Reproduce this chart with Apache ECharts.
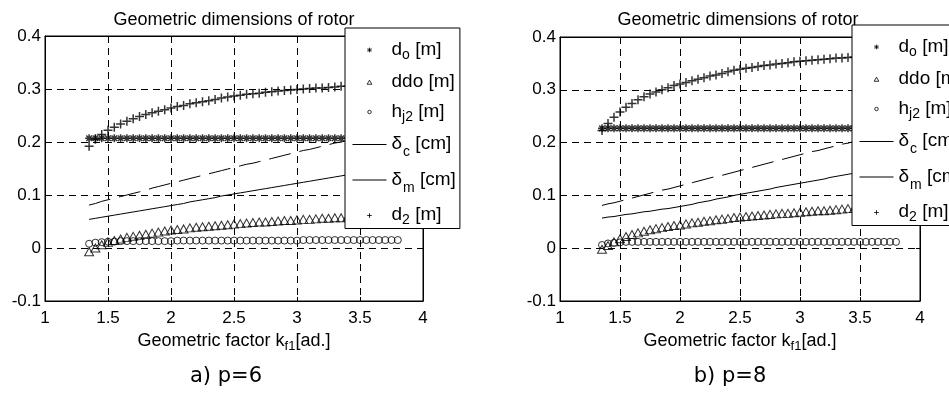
<!DOCTYPE html>
<html>
<head>
<meta charset="utf-8">
<script src="https://cdn.jsdelivr.net/npm/echarts@6/dist/echarts.min.js"></script>
<style>
  html, body { margin: 0; padding: 0; background: #fff; }
  #chart { width: 949px; height: 397px; }
</style>
</head>
<body>
<div id="chart"></div>
<script>
// geometric factor kf1 [ad.]
const kf1 = [
  1.35, 1.40, 1.45, 1.50, 1.55, 1.60, 1.65, 1.70, 1.75, 1.80,
  1.85, 1.90, 1.95, 2.00, 2.05, 2.10, 2.15, 2.20, 2.25, 2.30,
  2.35, 2.40, 2.45, 2.50, 2.55, 2.60, 2.65, 2.70, 2.75, 2.80,
  2.85, 2.90, 2.95, 3.00, 3.05, 3.10, 3.15, 3.20, 3.25, 3.30,
  3.35, 3.40, 3.45, 3.50, 3.55, 3.60, 3.65, 3.70, 3.75, 3.80
]

// a) p=6
const do6 = [
  0.207, 0.207, 0.207, 0.207, 0.207, 0.207, 0.207, 0.207, 0.207, 0.207,
  0.207, 0.207, 0.207, 0.207, 0.207, 0.207, 0.207, 0.207, 0.207, 0.207,
  0.207, 0.207, 0.207, 0.207, 0.207, 0.207, 0.207, 0.207, 0.207, 0.207,
  0.207, 0.207, 0.207, 0.207, 0.207, 0.207, 0.207, 0.207, 0.207, 0.207,
  0.207, 0.207, 0.207, 0.207, 0.207, 0.207, 0.207, 0.207, 0.207, 0.207
]
const ddo6 = [
  -0.007, 0.000, 0.006, 0.011, 0.014, 0.017, 0.020, 0.022, 0.024, 0.026,
  0.028, 0.030, 0.032, 0.034, 0.035, 0.036, 0.038, 0.039, 0.040, 0.041,
  0.042, 0.043, 0.044, 0.045, 0.046, 0.047, 0.048, 0.049, 0.049, 0.050,
  0.051, 0.052, 0.052, 0.053, 0.054, 0.054, 0.055, 0.056, 0.056, 0.057,
  0.057, 0.058, 0.058, 0.059, 0.059, 0.060, 0.060, 0.061, 0.061, 0.062
]
const hj6 = [
  0.008, 0.010, 0.011, 0.012, 0.012, 0.013, 0.013, 0.013, 0.013, 0.013,
  0.013, 0.013, 0.013, 0.013, 0.014, 0.014, 0.014, 0.014, 0.014, 0.014,
  0.014, 0.014, 0.014, 0.014, 0.014, 0.014, 0.014, 0.014, 0.014, 0.014,
  0.014, 0.014, 0.014, 0.014, 0.015, 0.015, 0.015, 0.015, 0.015, 0.015,
  0.015, 0.015, 0.015, 0.015, 0.015, 0.015, 0.015, 0.015, 0.015, 0.015
]
const dc6 = [
  0.081, 0.084, 0.088, 0.091, 0.094, 0.097, 0.100, 0.103, 0.106, 0.109,
  0.113, 0.116, 0.119, 0.122, 0.125, 0.128, 0.131, 0.134, 0.137, 0.140,
  0.143, 0.146, 0.149, 0.152, 0.155, 0.158, 0.160, 0.163, 0.166, 0.169,
  0.172, 0.175, 0.178, 0.181, 0.184, 0.186, 0.189, 0.192, 0.195, 0.198,
  0.200, 0.203, 0.206, 0.209, 0.212, 0.215, 0.217, 0.220, 0.223, 0.226
]
const dm6 = [
  0.054, 0.056, 0.058, 0.060, 0.062, 0.064, 0.066, 0.068, 0.070, 0.072,
  0.074, 0.076, 0.078, 0.080, 0.082, 0.084, 0.087, 0.089, 0.091, 0.093,
  0.095, 0.098, 0.100, 0.102, 0.104, 0.106, 0.108, 0.110, 0.112, 0.114,
  0.116, 0.118, 0.120, 0.122, 0.124, 0.126, 0.128, 0.130, 0.132, 0.134,
  0.136, 0.138, 0.140, 0.142, 0.144, 0.146, 0.148, 0.150, 0.152, 0.154
]
const d2_6 = [
  0.192, 0.205, 0.214, 0.222, 0.228, 0.234, 0.239, 0.244, 0.248, 0.252,
  0.255, 0.258, 0.261, 0.264, 0.267, 0.269, 0.272, 0.274, 0.276, 0.278,
  0.280, 0.283, 0.285, 0.287, 0.288, 0.290, 0.291, 0.292, 0.294, 0.295,
  0.296, 0.297, 0.298, 0.299, 0.300, 0.301, 0.302, 0.302, 0.303, 0.304,
  0.305, 0.305, 0.306, 0.306, 0.307, 0.307, 0.308, 0.308, 0.308, 0.309
]

// b) p=8
const do8 = [
  0.227, 0.227, 0.227, 0.227, 0.227, 0.227, 0.227, 0.227, 0.227, 0.227,
  0.227, 0.227, 0.227, 0.227, 0.227, 0.227, 0.227, 0.227, 0.227, 0.227,
  0.227, 0.227, 0.227, 0.227, 0.227, 0.227, 0.227, 0.227, 0.227, 0.227,
  0.227, 0.227, 0.227, 0.227, 0.227, 0.227, 0.227, 0.227, 0.227, 0.227,
  0.227, 0.227, 0.227, 0.227, 0.227, 0.227, 0.227, 0.227, 0.227, 0.227
]
const ddo8 = [
  -0.002, 0.005, 0.012, 0.018, 0.022, 0.026, 0.029, 0.032, 0.035, 0.037,
  0.039, 0.041, 0.043, 0.044, 0.046, 0.048, 0.049, 0.051, 0.052, 0.054,
  0.055, 0.056, 0.058, 0.059, 0.060, 0.061, 0.062, 0.063, 0.064, 0.065,
  0.066, 0.066, 0.067, 0.068, 0.069, 0.070, 0.071, 0.071, 0.072, 0.073,
  0.074, 0.075, 0.075, 0.076, 0.077, 0.077, 0.078, 0.079, 0.079, 0.080
]
const hj8 = [
  0.006, 0.009, 0.010, 0.011, 0.012, 0.012, 0.012, 0.012, 0.012, 0.012,
  0.012, 0.012, 0.012, 0.012, 0.012, 0.012, 0.012, 0.012, 0.012, 0.012,
  0.012, 0.012, 0.012, 0.012, 0.012, 0.012, 0.012, 0.012, 0.012, 0.012,
  0.012, 0.012, 0.012, 0.012, 0.012, 0.012, 0.012, 0.012, 0.012, 0.012,
  0.012, 0.012, 0.012, 0.012, 0.012, 0.012, 0.012, 0.012, 0.012, 0.012
]
const dc8 = [
  0.081, 0.084, 0.086, 0.089, 0.092, 0.095, 0.098, 0.101, 0.104, 0.107,
  0.110, 0.112, 0.115, 0.118, 0.121, 0.124, 0.127, 0.130, 0.133, 0.136,
  0.138, 0.141, 0.144, 0.147, 0.150, 0.153, 0.156, 0.159, 0.162, 0.165,
  0.168, 0.171, 0.174, 0.177, 0.180, 0.183, 0.185, 0.188, 0.191, 0.194,
  0.197, 0.199, 0.202, 0.205, 0.208, 0.210, 0.213, 0.216, 0.218, 0.221
]
const dm8 = [
  0.057, 0.059, 0.060, 0.062, 0.064, 0.065, 0.067, 0.069, 0.070, 0.072,
  0.074, 0.075, 0.077, 0.079, 0.081, 0.083, 0.086, 0.088, 0.090, 0.093,
  0.095, 0.097, 0.100, 0.102, 0.104, 0.106, 0.108, 0.110, 0.112, 0.115,
  0.117, 0.119, 0.121, 0.123, 0.125, 0.127, 0.129, 0.131, 0.134, 0.136,
  0.138, 0.140, 0.142, 0.144, 0.146, 0.148, 0.150, 0.151, 0.153, 0.155
]
const d2_8 = [
  0.223, 0.236, 0.248, 0.258, 0.267, 0.274, 0.281, 0.287, 0.292, 0.296,
  0.300, 0.304, 0.308, 0.311, 0.314, 0.317, 0.320, 0.323, 0.326, 0.328,
  0.331, 0.334, 0.337, 0.339, 0.341, 0.342, 0.344, 0.346, 0.347, 0.349,
  0.350, 0.351, 0.353, 0.354, 0.355, 0.356, 0.357, 0.358, 0.359, 0.360,
  0.360, 0.361, 0.362, 0.362, 0.363, 0.363, 0.364, 0.364, 0.365, 0.365
]

const chartTitle = 'Geometric dimensions of rotor'
const captions = ['a) p=6', 'b) p=8']
const seriesNames = ['do', 'ddo', 'hj2', 'dc', 'dm', 'd2']
const legendLabels = {
  do: '{n|d}{s|o}{n| [m]}',
  ddo: '{n|ddo [m]}',
  hj2: '{n|h}{s|j2}{n| [m]}',
  dc: '{n|δ}{d|c}{n| [cm]}',
  dm: '{n|δ}{d|m}{n| [cm]}',
  d2: '{n|d}{s|2}{n| [m]}'
}

const FONT = "'Liberation Sans', Arial, sans-serif"
const INK = '#000'
const CLEAR = 'rgba(0,0,0,0)'

// marker shapes (matlab style, outline only)
const PLUS = 'path://M0,5L10,5M5,0L5,10'
const STAR = 'path://M0,5L10,5M5,0L5,10M1.5,1.5L8.5,8.5M1.5,8.5L8.5,1.5'
const TRI = 'path://M5,0L10,9L0,9Z'
// same shapes padded so the legend draws them small
const legendIcons = {
  do: 'path://M0,0M24,24M8,12L16,12M12,8L12,16M9,9L15,15M9,15L15,9',
  ddo: 'path://M0,0M24,24M12,8L16,15L8,15Z',
  hj2: 'path://M0,0M24,24M15,12A3,3,0,1,1,9,12A3,3,0,1,1,15,12Z',
  d2: 'path://M0,0M24,24M8,12L16,12M12,8L12,16'
}
const hollow = { color: CLEAR, borderColor: INK, borderWidth: 1 }
const heavy = { color: CLEAR, borderColor: INK, borderWidth: 1.5 }

const pts = (ys) => kf1.map((x, i) => [x, ys[i]])

function panelSeries(idx, d) {
  const base = { xAxisIndex: idx, yAxisIndex: idx, silent: true }
  return [
    { ...base, name: 'do', type: 'scatter', symbol: STAR, symbolSize: 8, itemStyle: heavy, data: pts(d.do) },
    { ...base, name: 'ddo', type: 'scatter', symbol: TRI, symbolSize: [9, 8], itemStyle: hollow, data: pts(d.ddo) },
    { ...base, name: 'hj2', type: 'scatter', symbol: 'circle', symbolSize: 7, itemStyle: hollow, data: pts(d.hj) },
    { ...base, name: 'dc', type: 'line', symbol: 'none', itemStyle: { color: INK }, lineStyle: { color: INK, width: 1, type: [22, 9] }, data: pts(d.dc) },
    { ...base, name: 'dm', type: 'line', symbol: 'none', itemStyle: { color: INK }, lineStyle: { color: INK, width: 1 }, data: pts(d.dm) },
    { ...base, name: 'd2', type: 'scatter', symbol: PLUS, symbolSize: 9, itemStyle: heavy, data: pts(d.d2) }
  ]
}

const grids = [
  { left: 45, top: 36, width: 378, height: 265 },
  { left: 560, top: 37, width: 360, height: 264 }
]
const titleX = [234, 738]
const legendPos = [{ left: 345, top: 28 }, { left: 852, top: 25 }]

const subRich = {
  n: { fontSize: 19, fontFamily: FONT, color: INK, lineHeight: 20, verticalAlign: 'top' },
  s: { fontSize: 14, fontFamily: FONT, color: INK, lineHeight: 14, padding: [8, 0, 0, 0], verticalAlign: 'top' },
  d: { fontSize: 14, fontFamily: FONT, color: INK, lineHeight: 14, padding: [11, 0, 0, 1], verticalAlign: 'top' }
}
const nameRich = {
  n: { fontSize: 18, fontFamily: FONT, color: INK, lineHeight: 20, verticalAlign: 'top' },
  s: { fontSize: 13, fontFamily: FONT, color: INK, lineHeight: 14, padding: [8, 0, 0, 0], verticalAlign: 'top' }
}

const xAxes = []
const yAxes = []
grids.forEach((g, i) => {
  xAxes.push({
    gridIndex: i, type: 'value', min: 1, max: 4, interval: 0.5,
    name: '{n|Geometric factor k}{s|f1}{n|[ad.]}',
    nameLocation: 'middle', nameGap: 31,
    nameTextStyle: { rich: nameRich },
    axisLine: { onZero: false, lineStyle: { color: INK, width: 1 } },
    axisTick: { inside: true, length: 4, lineStyle: { color: INK } },
    axisLabel: { color: INK, fontSize: 17, fontFamily: FONT, margin: 9 },
    splitLine: { show: true, lineStyle: { color: INK, width: 1, type: [7, 5] } }
  })
  yAxes.push({
    gridIndex: i, type: 'value', min: -0.1, max: 0.4, interval: 0.1,
    axisLine: { show: true, onZero: false, lineStyle: { color: INK, width: 1 } },
    axisTick: { show: true, inside: true, length: 4, lineStyle: { color: INK } },
    axisLabel: { color: INK, fontSize: 17, fontFamily: FONT, margin: 4 },
    splitLine: { show: true, lineStyle: { color: INK, width: 1, type: [7, 5] } }
  })
})
// box ticks on top and right
grids.forEach((g, i) => {
  xAxes.push({
    gridIndex: i, type: 'value', position: 'top', min: 1, max: 4, interval: 0.5,
    axisLine: { onZero: false, lineStyle: { color: INK } },
    axisTick: { inside: true, length: 4, lineStyle: { color: INK } },
    axisLabel: { show: false }, splitLine: { show: false }
  })
  yAxes.push({
    gridIndex: i, type: 'value', position: 'right', min: -0.1, max: 0.4, interval: 0.1,
    axisLine: { show: true, onZero: false, lineStyle: { color: INK } },
    axisTick: { show: true, inside: true, length: 4, lineStyle: { color: INK } },
    axisLabel: { show: false }, splitLine: { show: false }
  })
})

const legends = legendPos.map((p) => ({
  ...p,
  orient: 'vertical',
  selectedMode: false,
  backgroundColor: '#fff',
  borderColor: INK,
  borderWidth: 1,
  borderRadius: 0,
  padding: [12, 4, 1, 7],
  itemGap: 10.5,
  itemWidth: 34,
  itemHeight: 14,
  z: 10,
  textStyle: { rich: subRich },
  formatter: (name) => legendLabels[name],
  data: seriesNames.map((name) => legendIcons[name]
    ? { name, icon: legendIcons[name], itemStyle: hollow }
    : { name, itemStyle: { color: CLEAR, borderWidth: 0 }, lineStyle: { color: INK, width: 1, type: 'solid' } })
}))

const titles = []
titleX.forEach((x, i) => {
  titles.push({
    text: chartTitle, left: x, top: 11, padding: 0, textAlign: 'center',
    textStyle: { color: INK, fontSize: 18, fontWeight: 'normal', fontFamily: FONT }
  })
  titles.push({
    text: captions[i], left: x - 8, top: 366, padding: 0, textAlign: 'center',
    textStyle: { color: INK, fontSize: 21, fontWeight: 'normal', fontFamily: "'DejaVu Sans', sans-serif" }
  })
})

const chart = echarts.init(document.getElementById('chart'))
chart.setOption({
  animation: false,
  backgroundColor: '#fff',
  title: titles,
  grid: grids.map((g) => ({ ...g, show: true, borderColor: INK, borderWidth: 1, backgroundColor: '#fff' })),
  xAxis: xAxes,
  yAxis: yAxes,
  legend: legends,
  series: [
    ...panelSeries(0, { do: do6, ddo: ddo6, hj: hj6, dc: dc6, dm: dm6, d2: d2_6 }),
    ...panelSeries(1, { do: do8, ddo: ddo8, hj: hj8, dc: dc8, dm: dm8, d2: d2_8 })
  ]
})
window.addEventListener('resize', () => chart.resize())
</script>
</body>
</html>
